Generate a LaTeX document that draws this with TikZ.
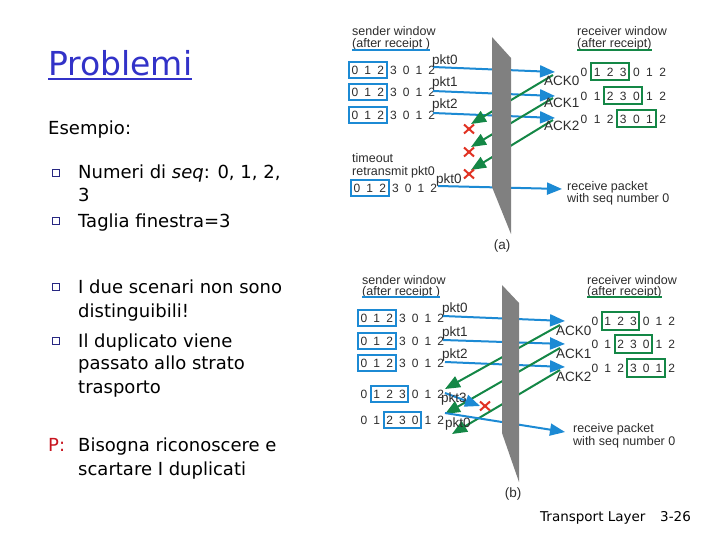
\documentclass[tikz,border=0pt]{standalone}
\usepackage{fontspec}
\setmainfont{DejaVu Sans}
\newfontfamily\figfont{Liberation Sans}
\usetikzlibrary{positioning}
\usetikzlibrary{arrows.meta,shapes.misc}
\usetikzlibrary{calc}

\definecolor{titleblue}{RGB}{50,50,200}
\definecolor{bulletblue}{RGB}{40,40,130}
\definecolor{pred}{RGB}{200,20,30}
\definecolor{pktblue}{RGB}{28,138,212}
\definecolor{ackgreen}{RGB}{20,135,70}
\definecolor{lossred}{RGB}{225,50,35}
\definecolor{wallgray}{RGB}{128,128,128}
\definecolor{figtext}{RGB}{45,45,45}

\begin{document}
\begin{tikzpicture}[x=1pt, y=-1pt,
  slidetxt/.style={anchor=base west, inner sep=0pt, font=\fontsize{18}{22}\selectfont},
  sq/.style={draw=bulletblue, line width=1.2pt, minimum size=7pt, inner sep=0pt},
  figtxt/.style={anchor=base west, inner sep=0pt, text=figtext, font=\figfont\fontsize{12.5}{14}\selectfont},
  pkttxt/.style={figtxt, font=\figfont\fontsize{13.5}{15}\selectfont},
  digit/.style={inner sep=0pt, text=figtext, font=\figfont\fontsize{12}{13}\selectfont},
  sendbox/.style={draw=pktblue, line width=2pt},
  recvbox/.style={draw=ackgreen, line width=2pt},
  pktline/.style={pktblue, line width=2pt, -{Triangle[length=15pt,width=12pt]}},
  ackline/.style={ackgreen, line width=2pt, -{Triangle[length=15pt,width=12pt]}},
  lost/.style={draw=lossred, cross out, line width=2pt, minimum width=8pt, minimum height=7pt, inner sep=0pt}
]

  \fill[white] (0,0) rectangle (720,540);
  \useasboundingbox (0,0) rectangle (720,540);

	%slide text
  \node[anchor=base west, inner sep=0pt, text=titleblue, font=\fontsize{33}{38}\selectfont] (title) at (48,76) {Problemi};
  \draw[titleblue, line width=2pt] ([yshift=-3.5pt]title.base west) -- ([yshift=-3.5pt]title.base east);

  \node[slidetxt] (ex) at (48,135) {Esempio:};
    \foreach \y/\txt/\name in {179/{Numeri di \textit{seq}: 0, 1, 2,}/l1, 202/3/l1b, 227/{Taglia finestra=3}/l2,
                               293/{I due scenari non sono}/l3, 317/{distinguibili!}/l3b,
                               347/{Il duplicato viene}/l4, 369/{passato allo strato}/l4b, 393/trasporto/l4c,
                               451/{Bisogna riconoscere e}/l5, 475/{scartare I duplicati}/l5b}{
         \node[slidetxt] (\name) at (78,\y) {\txt};
    }
    \foreach \y/\name in {173/b1, 221/b2, 287/b3, 341/b4}{
         \node[sq] (\name) at (56,\y) {};
    }
  \node[slidetxt, text=pred] (p) at (48,451) {P:};

  \node[anchor=base west, inner sep=0pt, font=\fontsize{13.5}{16}\selectfont] (foot) at (540,521) {Transport Layer};
  \node[anchor=base west, inner sep=0pt, font=\fontsize{13.5}{16}\selectfont] (page) at (660,521) {3-26};

	%scenario (a): windows
 \def\d{12.8}
  \node[figtxt] (swa) at (352,36) {sender window};
  \node[figtxt] (swa2) at (352,48) {(after receipt )};
  \draw[pktblue, line width=2pt] ([yshift=-2pt]swa2.base west) -- ([yshift=-2pt]swa2.base east);
    \foreach \r/\y/\x/\b in {1/70/355/0, 2/92/355/0, 3/115/355/0, 4/188/357/0}{
         \foreach \i/\num in {0/0,1/1,2/2,3/3,4/0,5/1,6/2}{
              \node[digit] (sa\r\i) at (\x+\i*\d,\y) {\num};
         }
         \draw[sendbox] (\x+\b*\d-6,\y-8) rectangle (\x+\b*\d+2*\d+6,\y+8);
    }

  \node[figtxt] (rwa) at (577,36) {receiver window};
  \node[figtxt] (rwa2) at (577,48) {(after receipt)};
  \draw[ackgreen, line width=2pt] ([yshift=-2pt]rwa2.base west) -- ([yshift=-2pt]rwa2.base east);
 \def\d{13.1}
    \foreach \r/\y/\b in {1/72/1, 2/96/2, 3/119/3}{
         \foreach \i/\num in {0/0,1/1,2/2,3/3,4/0,5/1,6/2}{
              \node[digit] (ra\r\i) at (584+\i*\d,\y) {\num};
         }
         \draw[recvbox] (584+\b*\d-6,\y-8.5) rectangle (584+\b*\d+2*\d+6,\y+8.5);
    }

  \node[figtxt] (toa) at (352,163) {timeout};
  \node[figtxt] (toa2) at (352,176) {retransmit pkt0};

	%scenario (a): packets and acks
    \foreach \n/\ys/\ye/\yl in {0/67/72/65, 1/91/96/87, 2/113/118/109}{
         \coordinate (pa\n-s) at (433,\ys);
         \coordinate (pa\n-e) at (555,\ye);
         \draw[pktline] (pa\n-s) -- (pa\n-e);
         \node[pkttxt] (pla\n) at (432,\yl) {pkt\n};
    }
  \coordinate (ra-s) at (438,186);
  \coordinate (ra-e) at (562,189);
  \draw[pktline] (ra-s) -- (ra-e);
  \node[pkttxt] (rla) at (436,184) {pkt0};

    \foreach \n/\ys/\ye/\yx/\yl in {0/75/124/129/86, 1/98/147/152/108, 2/120/170/174/131}{
         \coordinate (aa\n-s) at (553,\ys);
         \coordinate (aa\n-e) at (471,\ye);
         \draw[ackline] (aa\n-s) -- (aa\n-e);
         \node[pkttxt] (ala\n) at (544,\yl) {ACK\n};
    }

  \fill[wallgray] (492,37) -- (511,58) -- (511,234) -- (492,187) -- cycle;

    \foreach \n/\yx in {0/129, 1/152, 2/174}{
         \node[lost] (xa\n) at (469,\yx) {};
    }

  \node[figtxt] (rpa) at (567,191) {receive packet};
  \node[figtxt] (rpa2) at (567,203) {with seq number 0};
  \node[anchor=base, inner sep=0pt, text=figtext, font=\figfont\fontsize{13.5}{15}\selectfont] (capa) at (502,249) {(a)};

	%scenario (b): windows
 \def\d{12.8}
  \node[figtxt] (swb) at (362,284) {sender window};
  \node[figtxt] (swb2) at (362,295) {(after receipt )};
  \draw[pktblue, line width=2pt] ([yshift=-2pt]swb2.base west) -- ([yshift=-2pt]swb2.base east);
    \foreach \r/\y/\b in {1/318/0, 2/341/0, 3/363/0, 4/394/1, 5/420/2}{
         \foreach \i/\num in {0/0,1/1,2/2,3/3,4/0,5/1,6/2}{
              \node[digit] (sb\r\i) at (364+\i*\d,\y) {\num};
         }
         \draw[sendbox] (364+\b*\d-6,\y-8) rectangle (364+\b*\d+2*\d+6,\y+8);
    }

  \node[figtxt] (rwb) at (587,284) {receiver window};
  \node[figtxt] (rwb2) at (587,295) {(after receipt)};
  \draw[ackgreen, line width=2pt] ([yshift=-2pt]rwb2.base west) -- ([yshift=-2pt]rwb2.base east);
    \foreach \r/\y/\b in {1/321/1, 2/344/2, 3/368/3}{
         \foreach \i/\num in {0/0,1/1,2/2,3/3,4/0,5/1,6/2}{
              \node[digit] (rb\r\i) at (595+\i*\d,\y) {\num};
         }
         \draw[recvbox] (595+\b*\d-6,\y-9) rectangle (595+\b*\d+2*\d+6,\y+9);
    }

	%scenario (b): packets and acks
    \foreach \n/\xs/\ys/\ye/\yl in {0/443/316/321/312, 1/443/340/344/336, 2/445/362/367/358}{
         \coordinate (pb\n-s) at (\xs,\ys);
         \coordinate (pb\n-e) at (565,\ye);
         \draw[pktline] (pb\n-s) -- (pb\n-e);
         \node[pkttxt] (plb\n) at (442,\yl) {pkt\n};
    }
    \foreach \n/\ys/\xe/\ye/\yl in {0/325/445/389/335, 1/348/445/414/358, 2/370/452/434/381}{
         \coordinate (ab\n-s) at (560,\ys);
         \coordinate (ab\n-e) at (\xe,\ye);
         \draw[ackline] (ab\n-s) -- (ab\n-e);
         \node[pkttxt] (alb\n) at (556,\yl) {ACK\n};
    }
  \coordinate (p3b-s) at (445,393);
  \coordinate (p3b-e) at (480,406);
  \draw[pktline] (p3b-s) -- (p3b-e);
  \node[pkttxt] (pl3b) at (441,402) {pkt3};

  \coordinate (rb-s) at (445,413);
  \coordinate (rb-e) at (565,432);
  \draw[pktline] (rb-s) -- (rb-e);
  \node[pkttxt] (rlb) at (445,427) {pkt0};

  \fill[wallgray] (502,285) -- (519,303) -- (519,482) -- (502,433) -- cycle;

  \node[lost] (xb3) at (485,406) {};

  \node[figtxt] (rpb) at (573,432) {receive packet};
  \node[figtxt] (rpb2) at (573,445) {with seq number 0};
  \node[anchor=base, inner sep=0pt, text=figtext, font=\figfont\fontsize{13.5}{15}\selectfont] (capb) at (513,497) {(b)};

\end{tikzpicture}
\end{document}
